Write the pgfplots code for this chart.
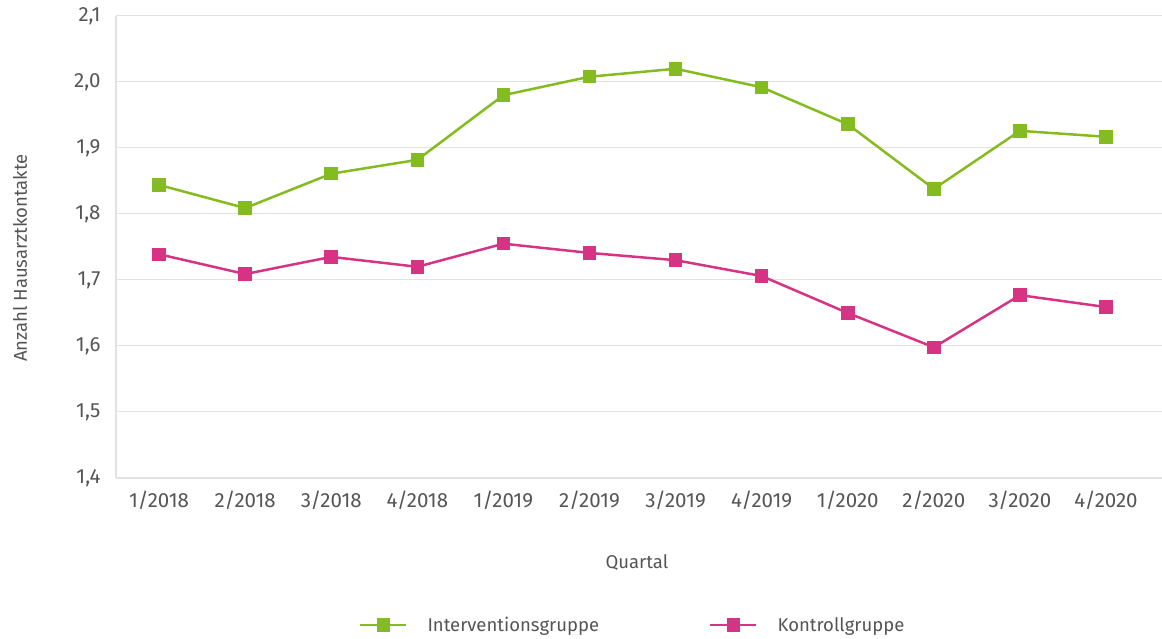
\documentclass[border=0pt]{standalone}
\usepackage{pgfplots}
\pgfplotsset{compat=1.18}
\usepackage{fontspec}
\setmainfont{Fira Sans}
\definecolor{cgreen}{HTML}{84BC1F}
\definecolor{cmag}{HTML}{D63384}
\definecolor{ctext}{HTML}{555555}
\definecolor{cgrid}{HTML}{E2E2E2}
\begin{document}
\begin{tikzpicture}
\begin{axis}[
  name=ax,
  scale only axis,
  width=1046pt, height=462pt,
  xmin=-0.5, xmax=11.65,
  ymin=1.4, ymax=2.1,
  xtick={0,...,11},
  xticklabels={1/2018,2/2018,3/2018,4/2018,1/2019,2/2019,3/2019,4/2019,1/2020,2/2020,3/2020,4/2020},
  ytick={1.4,1.5,...,2.1},
  yticklabel={\pgfmathprintnumber[fixed,fixed zerofill,precision=1,use comma]{\tick}},
  /pgf/number format/assume math mode=true,
  font=\fontsize{18.5}{22}\selectfont\color{ctext},
  tick label style={font=\fontsize{20.5}{24}\selectfont\color{ctext}},
  tick style={draw=none},
  axis x line*=bottom, axis y line*=left,
  axis line style={draw=cgrid, line width=1.2pt},
  separate axis lines,
  ymajorgrids, grid style={draw=cgrid, line width=1pt},
  xticklabel style={yshift=-22pt, anchor=center},
  yticklabel style={anchor=east, xshift=-12pt},
  xlabel={Quartal},
  ylabel={Anzahl Hausarztkontakte},
  every axis x label/.style={at={(axis description cs:0.498,-0.184)}, anchor=center},
  every axis y label/.style={at={(axis description cs:-0.0918,0.476)}, rotate=90, anchor=center},
  legend columns=2,
  legend style={at={(0.494,-0.318)}, anchor=center, draw=none, fill=none,
    /tikz/every odd column/.append style={column sep=18pt},
    /tikz/every even column/.append style={column sep=108pt},
    font=\fontsize{18.5}{22}\selectfont\color{ctext}},
  legend cell align=left,
  legend image code/.code={\draw[mark repeat=2,mark phase=2] plot coordinates {(0pt,0pt) (23pt,0pt) (46pt,0pt)};},
]
\addplot[cgreen, line width=2.5pt, mark=square*, mark size=5.5pt, mark options={solid, fill=cgreen, draw=none}] coordinates {
(0,1.844) (1,1.809) (2,1.861) (3,1.882) (4,1.980) (5,2.008) (6,2.020) (7,1.992) (8,1.936) (9,1.838) (10,1.926) (11,1.917)};
\addlegendentry{Interventionsgruppe}
\addplot[cmag, line width=2.5pt, mark=square*, mark size=5.5pt, mark options={solid, fill=cmag, draw=none}] coordinates {
(0,1.739) (1,1.709) (2,1.735) (3,1.720) (4,1.755) (5,1.741) (6,1.730) (7,1.706) (8,1.650) (9,1.598) (10,1.677) (11,1.659)};
\addlegendentry{Kontrollgruppe}
\end{axis}
\pgfresetboundingbox
\path ([xshift=-116pt,yshift=-161pt]ax.south west) rectangle ([yshift=16pt]ax.north east);
\end{tikzpicture}
\end{document}
